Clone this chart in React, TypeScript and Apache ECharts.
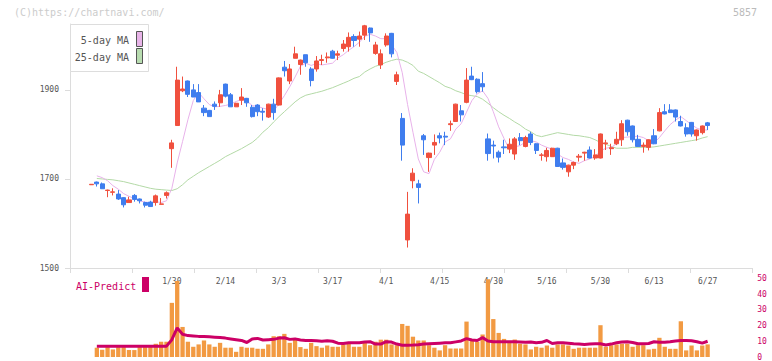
import React, { useEffect, useRef } from "react";
import * as echarts from "echarts";

const dates = [
  "1/8","1/9","1/10","1/14","1/15","1/16","1/17","1/20","1/21","1/22",
  "1/23","1/24","1/27","1/28","1/29","1/30","1/31","2/3","2/4","2/5",
  "2/6","2/7","2/10","2/12","2/13","2/14","2/17","2/18","2/19","2/20",
  "2/21","2/25","2/26","2/27","2/28","3/3","3/4","3/5","3/6","3/7",
  "3/10","3/11","3/12","3/13","3/14","3/17","3/18","3/19","3/21","3/24",
  "3/25","3/26","3/27","3/28","3/31","4/1","4/2","4/3","4/4","4/7",
  "4/8","4/9","4/10","4/11","4/14","4/15","4/16","4/17","4/18","4/21",
  "4/22","4/23","4/24","4/25","4/28","4/30","5/1","5/2","5/7","5/8",
  "5/9","5/12","5/13","5/14","5/15","5/16","5/19","5/20","5/21","5/22",
  "5/23","5/26","5/27","5/28","5/29","5/30","6/2","6/3","6/4","6/5",
  "6/6","6/9","6/10","6/11","6/12","6/13","6/16","6/17","6/18","6/19",
  "6/20","6/23","6/24","6/25","6/26","6/27"
];

const labelledDates = ["1/30","2/14","3/3","3/17","4/1","4/15","4/30","5/16","5/30","6/13","6/27"];

const opens = [
  1687,1693,1689,1674,1670,1666,1658,1647,1663,1655,
  1647,1648,1647,1643,1663,1768,1820,1898,1920,1900,
  1894,1859,1854,1868,1871,1913,1889,1862,1877,1881,
  1861,1866,1852,1839,1868,1866,1951,1920,1971,1957,
  1979,1947,1947,1966,1972,1987,1978,1993,1997,2020,
  2014,2023,2039,1982,1956,2001,2027,1919,1836,1563,
  1696,1689,1797,1748,1776,1797,1796,1822,1829,1853,
  1872,1931,1924,1914,1790,1776,1760,1772,1767,1756,
  1793,1773,1801,1779,1753,1750,1750,1769,1736,1716,
  1731,1749,1758,1765,1747,1747,1779,1768,1779,1788,
  1832,1819,1789,1773,1771,1797,1808,1851,1855,1855,
  1829,1815,1827,1797,1804,1826
];
const closes = [
  1688,1689,1678,1675,1671,1655,1642,1653,1654,1651,
  1641,1638,1662,1644,1669,1781,1922,1902,1890,1884,
  1873,1849,1840,1863,1889,1886,1862,1870,1884,1871,
  1840,1851,1850,1868,1849,1927,1943,1947,1981,1967,
  1961,1921,1965,1968,1974,1971,1981,2003,2018,2011,
  2021,2044,2028,2001,1981,2021,1981,1934,1776,1621,
  1713,1681,1788,1758,1782,1792,1794,1824,1868,1844,
  1922,1923,1896,1907,1757,1774,1749,1770,1778,1790,
  1786,1793,1782,1764,1754,1764,1769,1728,1726,1731,
  1737,1751,1760,1747,1754,1801,1781,1770,1789,1824,
  1806,1788,1773,1776,1788,1779,1849,1846,1849,1839,
  1819,1801,1801,1810,1819,1820
];
const lows = [
  1687,1683,1678,1659,1663,1653,1636,1647,1649,1645,
  1636,1638,1640,1643,1656,1725,1820,1895,1884,1884,
  1873,1841,1840,1855,1862,1883,1862,1862,1866,1862,
  1838,1841,1831,1837,1833,1865,1930,1913,1971,1934,
  1952,1908,1941,1956,1961,1970,1967,1986,1986,1997,
  1997,2012,2008,1979,1947,1997,1973,1911,1741,1546,
  1679,1645,1754,1716,1754,1780,1776,1808,1828,1829,
  1870,1922,1892,1896,1741,1746,1737,1756,1758,1743,
  1776,1771,1776,1756,1741,1739,1750,1727,1721,1705,
  1722,1739,1741,1746,1743,1746,1765,1754,1776,1774,
  1797,1782,1772,1759,1764,1778,1807,1845,1848,1829,
  1818,1795,1795,1786,1800,1810
];
const highs = [
  1688,1694,1692,1676,1679,1675,1659,1660,1666,1656,
  1649,1651,1665,1657,1672,1788,1952,1930,1921,1913,
  1913,1866,1855,1874,1900,1914,1893,1871,1904,1882,
  1866,1868,1859,1869,1880,1928,1965,1958,1997,1968,
  1979,1951,1976,1979,1984,1990,1988,2012,2029,2025,
  2031,2046,2040,2008,1991,2027,2028,1941,1848,1671,
  1724,1698,1801,1759,1800,1804,1806,1831,1869,1866,
  1949,1952,1926,1940,1802,1786,1764,1788,1791,1794,
  1803,1797,1806,1780,1758,1770,1770,1770,1746,1732,
  1739,1756,1761,1773,1767,1802,1788,1779,1806,1832,
  1833,1820,1799,1782,1789,1812,1859,1868,1868,1856,
  1842,1825,1828,1811,1820,1828
];

const ma5 = [
  null,1707,1703,1696,1685,1677,1667,1661,1656,1651,
  1648,1647,1649,1647,1651,1679,1736,1784,1833,1876,
  1894,1880,1867,1862,1863,1865,1868,1874,1878,1875,
  1865,1863,1859,1856,1852,1869,1887,1907,1929,1953,
  1960,1955,1959,1956,1958,1960,1972,1979,1989,1997,
  2007,2020,2025,2021,2015,2015,2002,1984,1939,1867,
  1805,1745,1716,1712,1744,1760,1783,1790,1812,1824,
  1850,1876,1891,1898,1881,1851,1817,1791,1766,1772,
  1775,1783,1786,1783,1776,1771,1767,1756,1748,1744,
  1738,1735,1741,1745,1750,1763,1769,1771,1779,1793,
  1794,1795,1796,1793,1786,1781,1793,1808,1822,1832,
  1840,1831,1822,1814,1810,1810
];
const ma25 = [
  null,1701,1700,1699,1698,1696,1694,1691,1688,1685,
  1682,1679,1677,1676,1675,1674,1678,1687,1698,1706,
  1714,1721,1728,1735,1742,1750,1756,1762,1768,1775,
  1782,1792,1805,1815,1828,1840,1851,1862,1873,1882,
  1888,1891,1894,1897,1901,1905,1910,1915,1920,1926,
  1930,1940,1947,1953,1957,1962,1966,1969,1967,1962,
  1955,1942,1937,1930,1923,1916,1908,1904,1898,1894,
  1889,1887,1885,1879,1870,1860,1851,1843,1836,1828,
  1821,1812,1806,1798,1795,1798,1801,1804,1802,1800,
  1798,1797,1795,1793,1788,1782,1778,1773,1769,1769,
  1769,1771,1771,1771,1771,1772,1774,1776,1778,1780,
  1782,1784,1786,1788,1792,1795
];

const volume = [
  null,5.9,4.6,6.3,4.8,6.3,6.3,4.4,4.4,6.3,
  6.3,7,8.4,9.7,9.7,34.4,48.3,19.1,9.7,6.5,
  8,10.5,8,6.5,9,5.9,5.9,3.3,6.5,5.9,
  5.9,5.2,5.2,8,13.2,13.2,14.7,9,10.8,6.3,
  5.2,9,6.9,5.9,7.3,6.5,6.5,8,8.4,6.5,
  6.5,9,7.5,9.7,11,11,8,7.5,21,19.8,
  12.9,10.5,10.5,7.5,5.9,4.2,7.5,5.4,5.4,5.4,
  22.5,11.1,9.7,14.3,49.4,24.1,15.3,11.5,9.7,11.1,
  8.4,8,4.8,6.5,5.9,7.3,5.9,8,8,7.3,
  5.2,5.9,5.9,5.9,5.9,20.2,6.5,7.5,8,8.4,
  8.4,6.5,7.5,7.5,4.8,5.2,12.2,6.5,5.2,5.2,
  22.7,4.2,7.3,4.2,7.3,8
];
const aiPredict = [
  null,6.9,6.9,6.9,6.9,6.9,6.9,6.9,6.9,6.9,
  6.9,6.9,6.9,6.9,6.9,11,18.5,14.5,13.6,13.4,
  13.1,13,12.8,12.6,12.4,12,11.5,11,10.5,9.2,
  11.5,11.8,10.8,11,11.2,12,12.2,11.2,11.5,10.8,
  10.5,10.5,10.3,10,10.3,10,8.8,8.6,9,9,
  9,9.5,9.7,8.2,8.2,9.7,9.5,8.2,7.5,7.5,
  7.6,7.8,8.2,8.4,8.6,8.8,9,9,9.6,10.2,
  11.7,10.8,10.5,12.3,10.2,9.7,9.7,9.7,9.7,9.7,
  9.5,9.3,9.5,9,9.3,10.5,8.6,9,9,8.8,
  8.4,8.2,8,8.2,8.4,8.4,7.6,8.2,9,9.5,
  9.7,9.2,8.4,8.4,8.6,9.7,9.3,9.3,9.7,10.2,
  10.5,10.5,10.3,9.7,8.8,10
];

const priceTicks = [1500, 1700, 1900];

const FONT = "'DejaVu Sans Mono', monospace";
const UP = "#F0503E";
const DOWN = "#3F7DEE";
const AXIS = "#dcdcdc";
const CRIMSON = "#CC0066";

export default function App() {
  const ref = useRef<HTMLDivElement>(null);
  useEffect(() => {
    if (!ref.current) return;
    const chart = echarts.init(ref.current, null, { renderer: "svg" });
    const candleData = dates.map((_, i) => [opens[i], closes[i], lows[i], highs[i]]);
    const gL = 88.8;
    const gR = 61.7;
    chart.setOption({
      animation: false,
      grid: [
        { left: 70, right: 20, top: 24, bottom: 93 },
        { left: gL, right: gR, top: 24, bottom: 93 },
        { left: gL, right: gR, top: 278.3, bottom: 3.7 },
      ],
      xAxis: [
        {
          gridIndex: 0, type: "value", min: 0, max: 11, interval: 1,
          axisLine: { show: true, lineStyle: { color: AXIS, width: 1 } },
          axisTick: { show: true, length: 5, lineStyle: { color: AXIS } },
          axisLabel: { show: false }, splitLine: { show: false },
        },
        {
          gridIndex: 1, type: "category", data: dates, boundaryGap: true,
          axisLine: { show: false }, axisTick: { show: false }, splitLine: { show: false },
          axisLabel: {
            interval: (i: number, v: string) => labelledDates.indexOf(v) >= 0,
            fontSize: 8, fontFamily: FONT, color: "#555", margin: 9,
          },
        },
        { gridIndex: 2, type: "category", data: dates, boundaryGap: true, show: false },
      ],
      yAxis: [
        {
          gridIndex: 0, type: "value", min: 1500, max: 2048,
          axisLine: { show: true, lineStyle: { color: AXIS, width: 1 } },
          axisTick: { show: true, length: 5, customValues: priceTicks, lineStyle: { color: AXIS } },
          axisLabel: {
            customValues: priceTicks, fontSize: 8, fontFamily: FONT, color: "#555", margin: 11,
            formatter: (v: number) => String(v),
          },
          splitLine: { show: false },
        },
        { gridIndex: 1, type: "value", min: 1500, max: 2048, show: false, splitLine: { show: false } },
        {
          gridIndex: 2, type: "value", min: 0, max: 50, interval: 10, position: "right",
          axisLine: { show: false }, axisTick: { show: false }, splitLine: { show: false },
          axisLabel: { fontSize: 8, fontFamily: FONT, color: CRIMSON, margin: 47 },
        },
      ],
      series: [
        {
          type: "line", name: "25-day MA", xAxisIndex: 1, yAxisIndex: 1, data: ma25,
          showSymbol: false, symbol: "none", lineStyle: { color: "#B3D9A6", width: 1 }, z: 2,
        },
        {
          type: "line", name: "5-day MA", xAxisIndex: 1, yAxisIndex: 1, data: ma5,
          showSymbol: false, symbol: "none", lineStyle: { color: "#E8B2EA", width: 1 }, z: 2,
        },
        {
          type: "candlestick", xAxisIndex: 1, yAxisIndex: 1, data: candleData, barWidth: 4.6,
          itemStyle: { color: UP, color0: DOWN, borderColor: UP, borderColor0: DOWN, borderWidth: 1 },
          z: 3,
        },
        {
          type: "bar", xAxisIndex: 2, yAxisIndex: 2, data: volume, barWidth: 4.3,
          itemStyle: { color: "#F29A42" }, z: 2,
        },
        {
          type: "line", xAxisIndex: 2, yAxisIndex: 2, data: aiPredict,
          showSymbol: false, symbol: "none", lineStyle: { color: CRIMSON, width: 3 }, z: 3,
        },
      ],
      graphic: [
        {
          type: "text", x: 14, y: 12,
          style: { text: "(C)https://chartnavi.com/", fill: "#cccccc", fontSize: 10, fontFamily: FONT, align: "left", verticalAlign: "middle" },
        },
        {
          type: "text", x: 757, y: 12,
          style: { text: "5857", fill: "#bbbbbb", fontSize: 10, fontFamily: FONT, align: "right", verticalAlign: "middle" },
        },
        {
          type: "rect", shape: { x: 70.5, y: 24.5, width: 78, height: 47 },
          style: { fill: "#ffffff", stroke: "#dddddd", lineWidth: 1 }, z: 10,
        },
        {
          type: "text", x: 129, y: 40, z: 11,
          style: { text: "5-day MA", fill: "#555", fontSize: 10, fontFamily: FONT, align: "right", verticalAlign: "middle" },
        },
        {
          type: "text", x: 129, y: 57, z: 11,
          style: { text: "25-day MA", fill: "#555", fontSize: 10, fontFamily: FONT, align: "right", verticalAlign: "middle" },
        },
        {
          type: "rect", shape: { x: 136.5, y: 31.5, width: 6, height: 15 }, z: 11,
          style: { fill: "#E8B4E8", stroke: "#555", lineWidth: 1 },
        },
        {
          type: "rect", shape: { x: 136.5, y: 48.5, width: 6, height: 15 }, z: 11,
          style: { fill: "#B8DCB0", stroke: "#555", lineWidth: 1 },
        },
        {
          type: "text", x: 76, y: 286,
          style: { text: "AI-Predict", fill: CRIMSON, fontSize: 10, fontFamily: FONT, align: "left", verticalAlign: "middle" },
        },
        {
          type: "rect", shape: { x: 142, y: 277, width: 7, height: 15 },
          style: { fill: CRIMSON },
        },
      ],
    });
    return () => chart.dispose();
  }, []);
  return (
    <div
      ref={ref}
      style={{ position: "absolute", left: 0, top: 0, width: 772, height: 361, background: "#ffffff" }}
    />
  );
}
